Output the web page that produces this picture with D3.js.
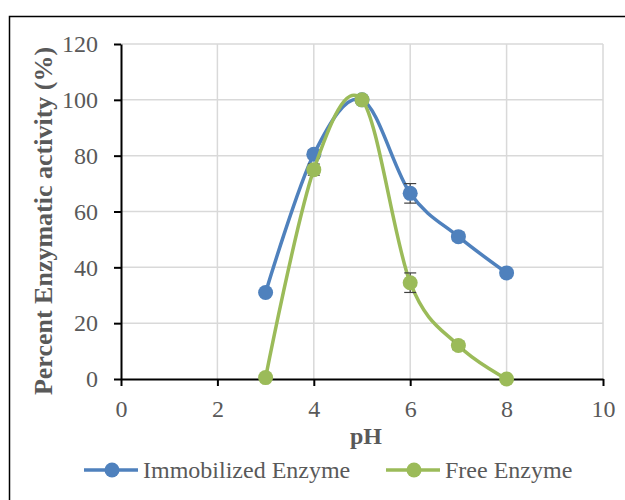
<!DOCTYPE html>
<html>
<head>
<meta charset="utf-8">
<script src="https://cdn.jsdelivr.net/npm/d3@7"></script>
<style>
  html, body { margin: 0; padding: 0; background: #fff; }
  svg { display: block; }
  text { font-family: "Liberation Serif", "Times New Roman", serif; }
</style>
</head>
<body>
<svg id="chart" width="625" height="500"></svg>
<script>
// pH activity profile of immobilized vs free enzyme
const phValues = [3, 4, 5, 6, 7, 8];
const immobilized = [31, 80.5, 100, 66.5, 51, 38];
const immobilizedErr = [1, 1.5, 1, 3.5, 1.5, 1];
const free = [0.5, 75, 100, 34.5, 12, 0];
const freeErr = [0.5, 2, 1, 3.5, 1.5, 0.5];
const xTicks = [0, 2, 4, 6, 8, 10];
const yTicks = [0, 20, 40, 60, 80, 100, 120];
const seriesNames = ["Immobilized Enzyme", "Free Enzyme"];
const seriesColors = ["#4f81bd", "#9bbb59"];

const svg = d3.select("#chart");
const plot = { left: 121, right: 603, top: 44, bottom: 379 };

const x = d3.scaleLinear().domain([0, 10]).range([plot.left, plot.right]);
const y = d3.scaleLinear().domain([0, 120]).range([plot.bottom, plot.top]);

// outer chart frame
svg.append("rect")
  .attr("x", 9.5).attr("y", 16.5)
  .attr("width", 640).attr("height", 500)
  .attr("fill", "none").attr("stroke", "#000").attr("stroke-width", 1.5);

// gridlines
const grid = svg.append("g");
grid.selectAll("line.h").data(yTicks.filter(d => d > 0)).join("line")
  .attr("x1", plot.left).attr("x2", plot.right)
  .attr("y1", d => y(d)).attr("y2", d => y(d))
  .attr("stroke", "#d9d9d9").attr("stroke-width", 1.5);
grid.selectAll("line.v").data(xTicks.filter(d => d > 0)).join("line")
  .attr("y1", plot.top).attr("y2", plot.bottom)
  .attr("x1", d => x(d)).attr("x2", d => x(d))
  .attr("stroke", "#d9d9d9").attr("stroke-width", 1.5);

// axes
const xAxis = svg.append("g")
  .attr("transform", `translate(0,${plot.bottom})`)
  .call(d3.axisBottom(x).tickValues(xTicks).tickSizeInner(7).tickSizeOuter(0));
const yAxis = svg.append("g")
  .attr("transform", `translate(${plot.left},0)`)
  .call(d3.axisLeft(y).tickValues(yTicks).tickSizeInner(7).tickSizeOuter(0).tickPadding(16));
[xAxis, yAxis].forEach(a => {
  a.select(".domain").attr("stroke", "#000").attr("stroke-width", 2);
  a.selectAll(".tick line").attr("stroke", "#000").attr("stroke-width", 2);
  a.selectAll(".tick text")
    .attr("fill", "#595959")
    .style("font-size", "24px")
    .style("font-family", "'Liberation Serif', 'Times New Roman', serif");
});
xAxis.selectAll(".tick text").attr("y", 38).attr("dy", 0);

// axis titles
svg.append("text")
  .attr("x", 366).attr("y", 444)
  .attr("text-anchor", "middle")
  .attr("fill", "#595959")
  .attr("font-weight", "bold")
  .style("font-size", "24px")
  .text("pH");
svg.append("text")
  .attr("transform", `translate(52,221) rotate(-90)`)
  .attr("text-anchor", "middle")
  .attr("fill", "#595959")
  .attr("font-weight", "bold")
  .style("font-size", "26px")
  .text("Percent Enzymatic activity (%)");

// series
const series = [
  { values: immobilized, err: immobilizedErr },
  { values: free, err: freeErr }
];
const line = d3.line()
  .x(d => x(d[0])).y(d => y(d[1]))
  .curve(d3.curveCatmullRom.alpha(0));

series.forEach((s, i) => {
  const pts = phValues.map((p, j) => [p, s.values[j], s.err[j]]);
  const g = svg.append("g");
  g.append("path")
    .datum(pts)
    .attr("d", line)
    .attr("fill", "none")
    .attr("stroke", seriesColors[i])
    .attr("stroke-width", 3.5);
  // error bars
  const eb = g.selectAll("g.err").data(pts).join("g");
  eb.append("line")
    .attr("x1", d => x(d[0])).attr("x2", d => x(d[0]))
    .attr("y1", d => y(d[1] - d[2])).attr("y2", d => y(d[1] + d[2]))
    .attr("stroke", "#404040").attr("stroke-width", 1.2);
  [1, -1].forEach(sign => {
    eb.append("line")
      .attr("x1", d => x(d[0]) - 6).attr("x2", d => x(d[0]) + 6)
      .attr("y1", d => y(d[1] + sign * d[2])).attr("y2", d => y(d[1] + sign * d[2]))
      .attr("stroke", "#404040").attr("stroke-width", 1.2);
  });
  g.selectAll("circle").data(pts).join("circle")
    .attr("cx", d => x(d[0])).attr("cy", d => y(d[1]))
    .attr("r", 7.5)
    .attr("fill", seriesColors[i]);
});

// legend
const legendItems = [
  { x0: 84, tx: 143 },
  { x0: 386, tx: 445 }
];
const lg = svg.append("g");
legendItems.forEach((item, i) => {
  lg.append("line")
    .attr("x1", item.x0).attr("x2", item.x0 + 54)
    .attr("y1", 470).attr("y2", 470)
    .attr("stroke", seriesColors[i]).attr("stroke-width", 3.5);
  lg.append("circle")
    .attr("cx", item.x0 + 28).attr("cy", 470).attr("r", 7.5)
    .attr("fill", seriesColors[i]);
  lg.append("text")
    .attr("x", item.tx).attr("y", 478)
    .attr("fill", "#595959")
    .style("font-size", "24px")
    .text(seriesNames[i]);
});
</script>
</body>
</html>
